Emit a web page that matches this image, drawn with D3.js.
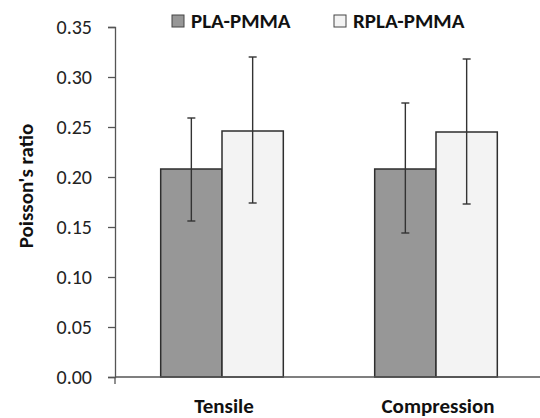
<!DOCTYPE html>
<html>
<head>
<meta charset="utf-8">
<script src="https://cdn.jsdelivr.net/npm/d3@7"></script>
<style>
  body { margin: 0; background: white; }
  svg { font-family: Carlito, Lato, "Open Sans", sans-serif; }
</style>
</head>
<body>
<svg id="chart" width="540" height="418"></svg>
<script>
const categories = ["Tensile", "Compression"];
const seriesNames = ["PLA-PMMA", "RPLA-PMMA"];
const seriesColors = ["#979797", "#f3f3f3"];
// mean and error bar ends, per series, per category
const means = [[0.208, 0.208], [0.246, 0.245]];
const errLow = [[0.156, 0.144], [0.174, 0.173]];
const errHigh = [[0.259, 0.274], [0.320, 0.318]];
const yTicks = [0, 0.05, 0.1, 0.15, 0.2, 0.25, 0.3, 0.35];

const svg = d3.select("#chart");

const x0 = d3.scaleBand().domain(categories).range([115, 543]).paddingInner(0).paddingOuter(0);
const y = d3.scaleLinear().domain([0, 0.35]).range([377, 27]);
// inner group of bars takes ~57% of each category slot
const groupW = x0.bandwidth() * 0.573;
const x1 = d3.scaleBand().domain(seriesNames).range([-groupW / 2, groupW / 2]);

// y axis
const yAxis = svg.append("g")
  .attr("transform", "translate(115,0)")
  .call(d3.axisLeft(y).tickValues(yTicks).tickFormat(d3.format(".2f")).tickSize(7).tickPadding(16));
yAxis.select(".domain").attr("stroke", "#555").attr("stroke-width", 1.3);
yAxis.selectAll(".tick line").attr("stroke", "#555").attr("stroke-width", 1.3);
yAxis.selectAll(".tick text").attr("font-size", "20px").attr("fill", "#222")
  .attr("font-family", "Carlito, Lato, 'Open Sans', sans-serif");

// small tick below x axis at the start
svg.append("line")
  .attr("x1", 115).attr("x2", 115).attr("y1", y(0)).attr("y2", y(0) + 7)
  .attr("stroke", "#555").attr("stroke-width", 1.3);

// bars
const groups = svg.append("g").selectAll("g")
  .data(categories)
  .join("g")
  .attr("transform", d => `translate(${x0(d) + x0.bandwidth() / 2},0)`);

seriesNames.forEach((s, si) => {
  groups.append("rect")
    .attr("x", x1(s))
    .attr("width", x1.bandwidth())
    .attr("y", (d, ci) => y(means[si][ci]))
    .attr("height", (d, ci) => y(0) - y(means[si][ci]))
    .attr("fill", seriesColors[si])
    .attr("stroke", "#2e2e2e")
    .attr("stroke-width", 1.5);
});

// x axis line
svg.append("line")
  .attr("x1", 115).attr("x2", 540).attr("y1", y(0)).attr("y2", y(0))
  .attr("stroke", "#555").attr("stroke-width", 1.5);

// error bars
seriesNames.forEach((s, si) => {
  const cx = x1(s) + x1.bandwidth() / 2;
  const eb = groups.append("g").attr("stroke", "#333").attr("stroke-width", 1.4);
  eb.append("line")
    .attr("x1", cx).attr("x2", cx)
    .attr("y1", (d, ci) => y(errLow[si][ci]))
    .attr("y2", (d, ci) => y(errHigh[si][ci]));
  [errLow, errHigh].forEach(arr => {
    eb.append("line")
      .attr("x1", cx - 4).attr("x2", cx + 4)
      .attr("y1", (d, ci) => y(arr[si][ci]))
      .attr("y2", (d, ci) => y(arr[si][ci]));
  });
});

// category labels
svg.append("g").selectAll("text")
  .data(categories)
  .join("text")
  .attr("x", d => x0(d) + x0.bandwidth() / 2 + 2)
  .attr("y", 413)
  .attr("text-anchor", "middle")
  .attr("font-size", "21px")
  .attr("font-weight", "bold")
  .attr("fill", "#111")
  .text(d => d);

// y title
svg.append("text")
  .attr("transform", "translate(33,186) rotate(-90)")
  .attr("text-anchor", "middle")
  .attr("font-size", "21px")
  .attr("font-weight", "bold")
  .attr("fill", "#111")
  .text("Poisson's ratio");

// legend
const legendX = [172, 334];
const legend = svg.append("g").selectAll("g")
  .data(seriesNames)
  .join("g")
  .attr("transform", (d, i) => `translate(${legendX[i]},15)`);
legend.append("rect")
  .attr("width", 12).attr("height", 12)
  .attr("fill", (d, i) => seriesColors[i])
  .attr("stroke", "#444").attr("stroke-width", 1);
legend.append("text")
  .attr("x", 19).attr("y", 13)
  .attr("font-size", "21px")
  .attr("font-weight", "bold")
  .attr("fill", "#111")
  .text(d => d);
</script>
</body>
</html>
